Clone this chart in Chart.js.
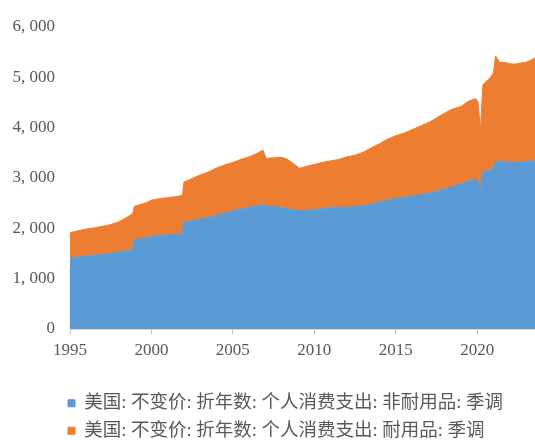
<!DOCTYPE html>
<html>
<head>
<meta charset="utf-8">
<script src="https://cdn.jsdelivr.net/npm/chart.js@4/dist/chart.umd.min.js"></script>
<style>
    body { margin: 0; background: #ffffff; }
    #wrap { width: 535px; height: 440px; }
</style>
</head>
<body>
<div id="wrap"><canvas id="pceChart" width="535" height="440"></canvas></div>
<script>
// Years (decimal)
const years = [
    1995.0, 1995.5, 1996.0, 1996.5, 1997.0, 1997.5, 1998.0, 1998.5, 1998.85, 1998.95,
    1999.3, 1999.7, 2000.0, 2000.5, 2001.0, 2001.5, 2001.9, 2002.0, 2002.5, 2003.0,
    2003.5, 2004.0, 2004.5, 2005.0, 2005.5, 2006.0, 2006.5, 2006.85, 2007.05, 2007.5,
    2008.0, 2008.3, 2008.7, 2009.1, 2009.5, 2010.0, 2010.5, 2011.0, 2011.5, 2012.0,
    2012.5, 2013.0, 2013.5, 2014.0, 2014.5, 2015.0, 2015.5, 2016.0, 2016.5, 2017.0,
    2017.5, 2018.0, 2018.5, 2019.0, 2019.5, 2019.9, 2020.05, 2020.2, 2020.35, 2020.6,
    2020.8, 2021.0, 2021.13, 2021.4, 2021.7, 2022.0, 2022.3, 2022.6, 2023.0, 2023.3,
    2023.55
];

// Non-durable goods (blue, bottom)
const nonDurable = [
    1414, 1430, 1448, 1465, 1480, 1500, 1525, 1555, 1580, 1765,
    1790, 1815, 1840, 1860, 1870, 1878, 1890, 2120, 2150, 2180,
    2215, 2260, 2300, 2345, 2380, 2410, 2445, 2465, 2440, 2430,
    2420, 2390, 2370, 2350, 2355, 2370, 2390, 2410, 2415, 2420,
    2430, 2450, 2480, 2520, 2560, 2590, 2615, 2640, 2665, 2695,
    2730, 2780, 2830, 2880, 2940, 2978, 2960, 2742, 3116, 3140,
    3160, 3180, 3320, 3333, 3320, 3320, 3314, 3310, 3325, 3335,
    3340
];

// Durable goods (orange, stacked on top)
const durable = [
    499, 520, 537, 545, 560, 575, 605, 665, 710, 675,
    680, 695, 720, 730, 740, 752, 765, 800, 840, 880,
    905, 940, 960, 965, 990, 1010, 1045, 1090, 950, 970,
    990, 990, 920, 845, 875, 900, 920, 930, 955, 1000,
    1020, 1060, 1120, 1160, 1210, 1250, 1275, 1320, 1365, 1405,
    1460, 1510, 1540, 1540, 1590, 1598, 1557, 1223, 1736, 1790,
    1830, 1909, 2104, 1957, 1980, 1950, 1946, 1970, 1975, 2005,
    2050
];

const seriesNames = [
    '美国: 不变价: 折年数: 个人消费支出: 非耐用品: 季调',
    '美国: 不变价: 折年数: 个人消费支出: 耐用品: 季调'
];

const yTicks = { min: 0, max: 6000, step: 1000 };
const xTicks = { min: 1995, max: 2023.55, step: 5 };

const blueColor = '#5B9BD5';
const orangeColor = '#ED7D31';
const labelColor = '#595959';
const tickFont = { family: "'Liberation Serif', 'Times New Roman', serif", size: 17 };

function toPoints(values) {
    return values.map((v, i) => ({ x: years[i], y: v }));
}

// nudge legend to sit like the original (left aligned, lower)
const legendShift = {
    id: 'legendShift',
    afterLayout(chart) {
        chart.legend.left += 59;
        chart.legend.top += 10;
    }
};

const ctx = document.getElementById('pceChart');
new Chart(ctx, {
    type: 'line',
    data: {
        datasets: [
            {
                label: seriesNames[0],
                data: toPoints(nonDurable),
                backgroundColor: blueColor,
                borderColor: blueColor,
                borderWidth: 1,
                pointRadius: 0,
                fill: 'origin'
            },
            {
                label: seriesNames[1],
                data: toPoints(durable),
                backgroundColor: orangeColor,
                borderColor: orangeColor,
                borderWidth: 1,
                pointRadius: 0,
                fill: '-1'
            }
        ]
    },
    options: {
        responsive: false,
        animation: false,
        layout: { padding: { top: 27, left: 0, right: 0, bottom: 0 } },
        plugins: {
            legend: {
                position: 'bottom',
                align: 'start',
                labels: {
                    boxWidth: 7,
                    boxHeight: 7,
                    padding: 9,
                    color: labelColor,
                    font: { family: "'Liberation Serif', 'Noto Sans CJK SC', serif", size: 18.5 }
                }
            },
            tooltip: { enabled: false }
        },
        scales: {
            x: {
                type: 'linear',
                min: xTicks.min,
                max: xTicks.max,
                afterFit(scale) { scale.height = 46; },
                border: { display: true, color: '#d9d9d9' },
                grid: {
                    drawOnChartArea: false,
                    drawTicks: true,
                    tickLength: 5,
                    color: '#bfbfbf'
                },
                ticks: {
                    stepSize: xTicks.step,
                    includeBounds: false,
                    padding: 6,
                    maxRotation: 0,
                    color: labelColor,
                    font: tickFont,
                    callback: (value) => String(value)
                }
            },
            y: {
                stacked: true,
                min: yTicks.min,
                max: yTicks.max,
                afterFit(scale) { scale.width = 70; },
                border: { display: false },
                grid: { display: false },
                ticks: {
                    stepSize: yTicks.step,
                    padding: 7,
                    color: labelColor,
                    font: tickFont,
                    callback: (value) => value.toLocaleString('en-US').replace(',', ', ')
                }
            }
        }
    },
    plugins: [legendShift]
});
</script>
</body>
</html>
